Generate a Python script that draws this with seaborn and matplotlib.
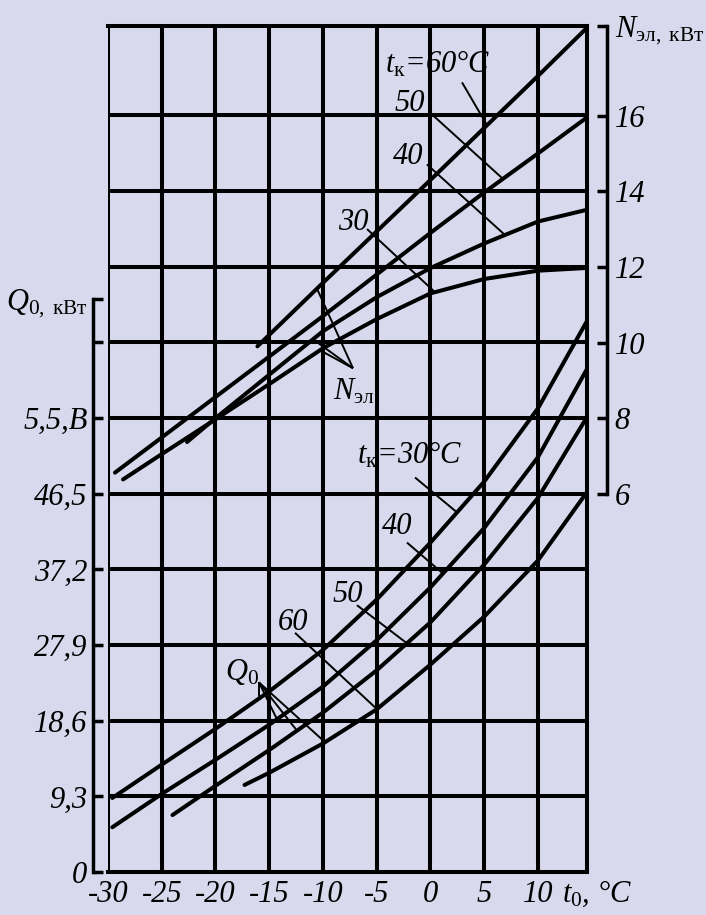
import numpy as np
import matplotlib
matplotlib.use("Agg")
import matplotlib.pyplot as plt
import seaborn as sns

# ---- data -----------------------------------------------------------------
# Refrigerating capacity Q0 (kW) against evaporation temperature t0 (°C),
# one curve per condensing temperature t_k
t0_q30 = [-29.6, -25, -20, -15, -10, -5, 0, 5, 10, 14.5]
q0_30 = [9.1, 13.2, 17.6, 22.2, 27.3, 33.5, 40.5, 48.0, 57.0, 67.6]
t0_q40 = [-29.6, -25, -20, -15, -10, -5, 0, 5, 10, 14.5]
q0_40 = [5.5, 9.6, 13.8, 18.1, 22.8, 28.5, 35.0, 42.3, 51.0, 61.7]
t0_q50 = [-24.0, -20, -15, -10, -5, 0, 5, 10, 14.5]
q0_50 = [7.0, 10.6, 15.0, 19.6, 24.8, 30.7, 37.8, 46.0, 55.8]
t0_q60 = [-17.3, -15, -10, -5, 0, 5, 10, 14.5]
q0_60 = [10.7, 12.2, 15.8, 20.0, 25.5, 31.4, 38.3, 46.6]

# Electric power N_el (kW) against t0
t0_n30 = [-28.6, -25, -20, -15, -10, -5, 0, 5, 10, 14.4]
n_30 = [6.38, 7.05, 7.97, 8.9, 9.85, 10.62, 11.3, 11.68, 11.9, 11.97]
t0_n40 = [-22.65, -20, -15, -10, -5, 0, 5, 10, 14.4]
n_40 = [7.37, 8.0, 9.15, 10.3, 11.2, 11.97, 12.62, 13.2, 13.5]
t0_n50 = [-29.35, -20, -10, 0, 5, 10, 14.4]
n_50 = [6.56, 8.56, 10.7, 12.9, 13.97, 15.0, 15.92]
t0_n60 = [-16.1, -10, 0, 10, 14.4]
n_60 = [9.9, 11.58, 14.3, 17.05, 18.28]

x_ticks = [-30, -25, -20, -15, -10, -5, 0, 5, 10]
x_labels = ["-30", "-25", "-20", "-15", "-10", "-5", "0", "5", "10"]
q_ticks = [0, 9.3, 18.6, 27.9, 37.2, 46.5, 55.8, 65.1]
q_labels = ["0", "9,3", "18,6", "27,9", "37,2", "46,5", "5,5,B", ""]
q_grid = [9.3, 18.6, 27.9, 37.2, 46.5, 55.8, 65.1, 74.4, 83.7, 93.0]
n_ticks = [6, 8, 10, 12, 14, 16]
n_labels = ["6", "8", "10", "12", "14", "16"]

# ---- style ----------------------------------------------------------------
BG = "#d8d9ed"
sns.set_theme(style="white")
plt.rcParams["font.family"] = ["Liberation Serif", "DejaVu Serif"]
plt.rcParams["mathtext.fontset"] = "custom"
plt.rcParams["mathtext.rm"] = "Liberation Serif"
plt.rcParams["mathtext.it"] = "Liberation Serif:italic"
plt.rcParams["mathtext.bf"] = "Liberation Serif:bold"
for key in ["text.color", "axes.labelcolor", "xtick.color", "ytick.color",
            "xtick.labelcolor", "ytick.labelcolor", "axes.edgecolor"]:
    plt.rcParams[key] = "black"

FS = 22
LW = 2.9
THIN = 1.4

X_MIN, X_MAX = -30, 14.56
Q_MAX = 104.0
Q_AXIS_TOP = 70.4
N_AXIS_TOP = 18.37


def q_to_n(q):
    return 6 + (np.asarray(q) - 46.5) / 4.65


fig = plt.figure(figsize=(7.06, 9.15), dpi=100, facecolor=BG)
ax = fig.add_axes([108 / 706, 43 / 915, 479 / 706, 846 / 915], facecolor=BG)
ax.set_xlim(X_MIN, X_MAX)
ax.set_ylim(0, Q_MAX)
ax2 = ax.twinx()
ax2.set_ylim(float(q_to_n(0)), float(q_to_n(Q_MAX)))

# grid of the nomogram
for x in x_ticks[1:]:
    ax.axvline(x, color="black", lw=LW, zorder=1)
ax.axvline(X_MIN, color="black", lw=LW, zorder=1)
for q in q_grid:
    ax.axhline(q, color="black", lw=LW, zorder=1)

# curves
for xs, ys in [(t0_q30, q0_30), (t0_q40, q0_40), (t0_q50, q0_50), (t0_q60, q0_60)]:
    sns.lineplot(x=xs, y=ys, ax=ax, color="black", lw=LW, sort=False,
                 estimator=None, zorder=3)
for xs, ys in [(t0_n30, n_30), (t0_n40, n_40), (t0_n50, n_50), (t0_n60, n_60)]:
    sns.lineplot(x=xs, y=ys, ax=ax2, color="black", lw=LW, sort=False,
                 estimator=None, zorder=3)
ax.set_xlabel("")
ax.set_ylabel("")
ax2.set_ylabel("")


def on_curve(xs, ys, x):
    return float(np.interp(x, xs, ys))


def leader(axis, x0, y0, x1, y1):
    axis.plot([x0, x1], [y0, y1], color="black", lw=THIN, zorder=4,
              solid_capstyle="butt")


def label(axis, x, y, s):
    axis.text(x, y, s, fontsize=FS, style="italic", ha="left", va="baseline",
              color="black", zorder=5)


# power curve labels
label(ax2, -4.2, 17.13, r"$t_{\mathrm{к}}$=60°C")
leader(ax2, 2.93, 16.88, 5.26, on_curve(t0_n60, n_60, 5.26))
label(ax2, -3.3, 16.13, "50")
leader(ax2, -0.05, 16.08, 6.74, on_curve(t0_n50, n_50, 6.74))
label(ax2, -3.5, 14.71, "40")
leader(ax2, -0.33, 14.71, 6.93, on_curve(t0_n40, n_40, 6.93))
label(ax2, -8.6, 12.97, "30")
leader(ax2, -5.9, 13.0, 0.42, on_curve(t0_n30, n_30, 0.42))
label(ax2, -9.07, 8.49, r"$N_{\mathrm{эл}}$")
for xs, ys, xe in [(t0_n60, n_60, -10.56), (t0_n40, n_40, -10.93),
                   (t0_n30, n_30, -10.28)]:
    leader(ax2, -7.21, 9.32, xe, on_curve(xs, ys, xe))

# capacity curve labels
label(ax, -6.84, 50.25, r"$t_{\mathrm{к}}$=30°C")
leader(ax, -1.44, 48.5, 2.47, on_curve(t0_q30, q0_30, 2.47))
label(ax, -4.51, 41.6, "40")
leader(ax, -2.19, 40.5, 1.16, on_curve(t0_q40, q0_40, 1.16))
label(ax, -9.16, 33.2, "50")
leader(ax, -6.84, 32.8, -2.19, on_curve(t0_q50, q0_50, -2.19))
label(ax, -14.19, 29.7, "60")
leader(ax, -12.6, 29.4, -4.98, on_curve(t0_q60, q0_60, -4.98))
label(ax, -19.1, 23.6, r"$Q_{\mathrm{0}}$")
for xs, ys, xe in [(t0_q30, q0_30, -15.95), (t0_q40, q0_40, -14.28),
                   (t0_q50, q0_50, -12.42), (t0_q60, q0_60, -9.81)]:
    leader(ax, -15.95, 23.3, xe, on_curve(xs, ys, xe))

# ---- axes -----------------------------------------------------------------
for s in ["top", "bottom", "right"]:
    ax.spines[s].set_color("black")
    ax.spines[s].set_linewidth(LW)
ax.spines["left"].set_color("black")
ax.spines["left"].set_linewidth(2.5)
ax.spines["left"].set_position(("outward", 10.8))
ax.spines["left"].set_bounds(0, Q_AXIS_TOP)

for s in ["top", "bottom", "left"]:
    ax2.spines[s].set_visible(False)
ax2.spines["right"].set_color("black")
ax2.spines["right"].set_linewidth(2.5)
ax2.spines["right"].set_position(("outward", 14.4))
ax2.spines["right"].set_bounds(6, N_AXIS_TOP)

ax.set_xticks(x_ticks)
ax.set_xticklabels(x_labels, fontsize=FS, fontstyle="italic", color="black")
ax.tick_params(axis="x", length=0, pad=6)

ax.set_yticks(q_ticks + [Q_AXIS_TOP])
ax.set_yticklabels(q_labels + [r"$Q_{\mathrm{0,\ кВт}}$"], fontsize=FS,
                   fontstyle="italic", color="black")
ax.tick_params(axis="y", direction="in", length=7.2, width=2.5, pad=4,
               colors="black")

ax2.set_yticks(n_ticks + [N_AXIS_TOP])
ax2.set_yticklabels(n_labels + [r"$N_{\mathrm{эл,\ кВт}}$"], fontsize=FS,
                    fontstyle="italic", color="black")
ax2.tick_params(axis="y", direction="in", length=7.2, width=2.5, pad=5.5,
                colors="black")

ax.annotate(r"$t_{\mathrm{0}}$, °C", xy=(12.2, 0), xycoords=("data", "axes fraction"),
            xytext=(0, -5), textcoords="offset points", ha="left", va="top",
            fontsize=FS, style="italic", color="black", annotation_clip=False)

ax.grid(False)
ax2.grid(False)

fig.savefig("out.png", dpi=100, facecolor=BG)
